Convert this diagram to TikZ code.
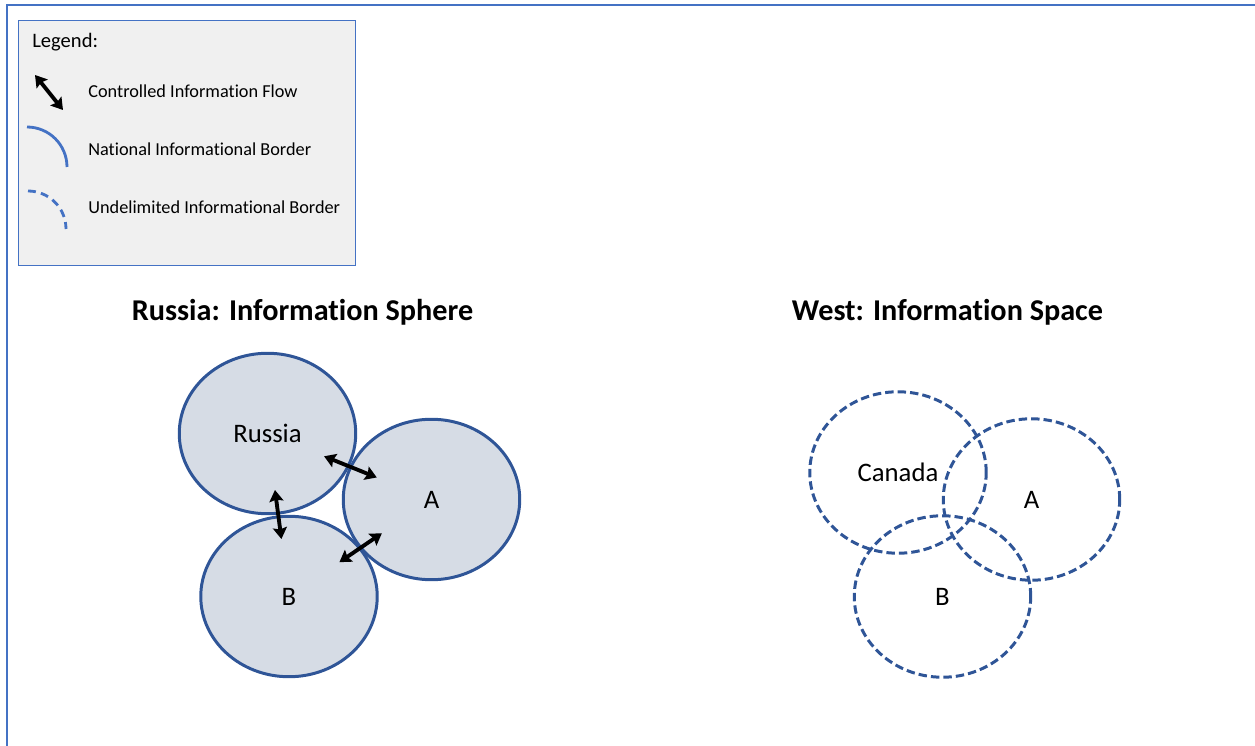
\documentclass[tikz,border=0pt]{standalone}
\usepackage{fontspec}
\setmainfont[Ligatures=NoCommon]{Carlito}
\usetikzlibrary{shapes.geometric,arrows.meta,positioning}

\definecolor{frameblue}{HTML}{4472C4}
\definecolor{borderblue}{HTML}{2F5597}
\definecolor{spherefill}{HTML}{D6DCE5}
\definecolor{legendgray}{HTML}{F0F0F0}

\begin{document}
\begin{tikzpicture}[x=0.02cm, y=-0.02cm,
  sphere/.style={ellipse, draw=borderblue, fill=spherefill, line width=1.7pt,
    minimum width=3.53cm, minimum height=3.21cm, font=\fontsize{15.2}{18}\selectfont},
  space/.style={ellipse, draw=borderblue, line width=1.7pt, dash pattern=on 4.8pt off 2.3pt,
    minimum width=3.53cm, minimum height=3.23cm, font=\fontsize{15.2}{18}\selectfont},
  flow/.style={{Stealth[length=6.5pt,width=8pt,inset=1pt]}-{Stealth[length=6.5pt,width=8pt,inset=1pt]},
    line width=2.2pt},
  title/.style={font=\bfseries\fontsize{17.2}{20}\selectfont},
  item/.style={anchor=west, inner sep=0pt, font=\fontsize{10.4}{12}\selectfont}
]
\useasboundingbox (0,0) rectangle (1255,746);

% outer frame (only top and left edge in view)
\draw[frameblue, line width=1.2pt] (1255,5) -- (7,5) -- (7,746);

% legend
\node[draw=frameblue, fill=legendgray, line width=0.6pt, anchor=north west,
  minimum width=6.74cm, minimum height=4.9cm] (legend) at (18,20) {};
\node[item, font=\fontsize{11.7}{14}\selectfont] (legendhead) at (32,42) {Legend:};

\coordinate (flowtop) at (35,75);
\coordinate (flowbot) at (63,110);
\draw[flow] (flowtop) -- (flowbot);
\node[item] (flowitem) at (88,91) {Controlled Information Flow};

\draw[frameblue, line width=1.6pt] (27,127) arc[start angle=-90, end angle=0, radius=40];
\node[item] (borderitem) at (88,149) {National Informational Border};

\draw[frameblue, line width=1.6pt, dash pattern=on 4.5pt off 3pt]
  (28,191) arc[start angle=-90, end angle=0, radius=38];
\node[item] (openitem) at (88,207) {Undelimited Informational Border};

% Russia: closed spheres
\node[title] (russiatitle) at (302.5,312) {Russia: Information Sphere};

\node[sphere] (russia) at (267.5,433.5) {Russia};
\node[sphere] (stateB) at (289,596.5) {B};
\node[sphere] (stateA) at (431.5,499.5) {A};

\draw[flow, shorten <=1.22cm, shorten >=1.18cm] (russia.center) -- (stateA.center);
\draw[flow, shorten <=1.14cm, shorten >=1.16cm] (russia.center) -- (stateB.center);
\draw[flow, shorten <=1.22cm, shorten >=1.2cm] (stateB.center) -- (stateA.center);

% West: open spaces
\node[title] (westtitle) at (947.5,312) {West: Information Space};

\node[space] (canada) at (898,472.5) {Canada};
\node[space] (westA) at (1031.5,499.5) {A};
\node[space] (westB) at (942.5,596.5) {B};

\end{tikzpicture}
\end{document}
